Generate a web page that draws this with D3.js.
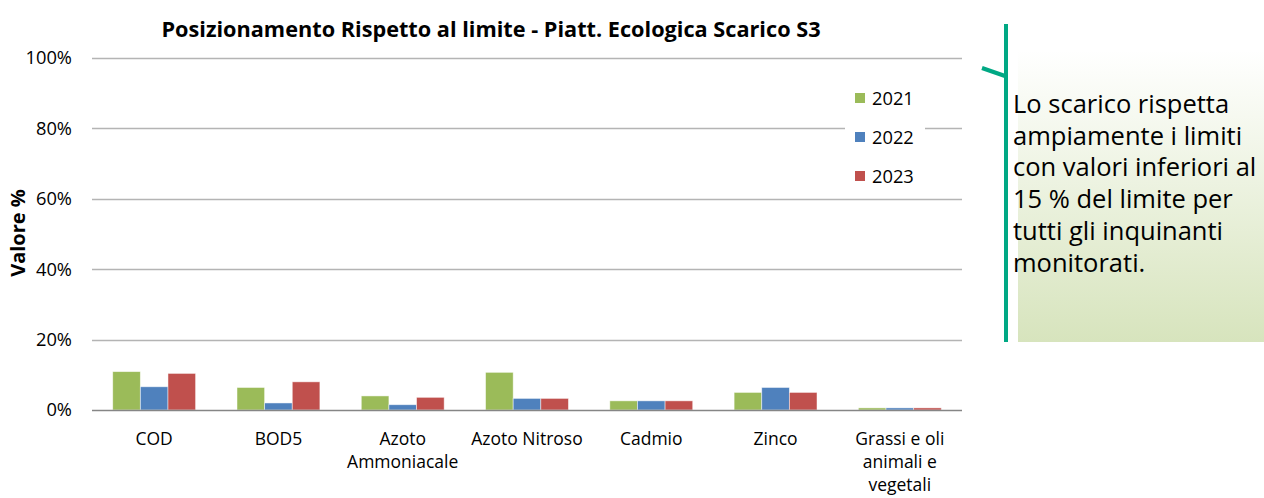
<!DOCTYPE html>
<html>
<head>
<meta charset="utf-8">
<script src="https://cdn.jsdelivr.net/npm/d3@7"></script>
<style>
  body { margin: 0; background: #fff; }
  svg text { font-family: "Open Sans", sans-serif; fill: #000; }
</style>
</head>
<body>
<svg id="chart" width="1264" height="498"></svg>
<script>
let width = 1264, height = 498;

// data
let categories = ["COD", "BOD5", "Azoto Ammoniacale", "Azoto Nitroso", "Cadmio", "Zinco", "Grassi e oli animali e vegetali"];
let catLines = [["COD"], ["BOD5"], ["Azoto", "Ammoniacale"], ["Azoto Nitroso"], ["Cadmio"], ["Zinco"], ["Grassi e oli", "animali e", "vegetali"]];
let years = ["2021", "2022", "2023"];
let v2021 = [10.9, 6.4, 4.0, 10.7, 2.6, 5.0, 0.6];
let v2022 = [6.6, 2.0, 1.5, 3.3, 2.6, 6.4, 0.6];
let v2023 = [10.4, 8.0, 3.6, 3.3, 2.6, 5.0, 0.6];
let yTicks = [0, 20, 40, 60, 80, 100];
let colors = ["#9BBB59", "#4F81BD", "#C0504D"];
let noteLines = ["Lo scarico rispetta", "ampiamente i limiti", "con valori inferiori al", "15 % del limite per", "tutti gli inquinanti", "monitorati."];

let series = [v2021, v2022, v2023];
let rows = [];
categories.forEach((c, i) => years.forEach((y, j) => rows.push({cat: c, year: y, value: series[j][i]})));

let margin = {left: 92, right: 302, top: 58, bottom: 88};
let svg = d3.select('#chart');

let x = d3.scaleBand().domain(categories)
    .range([margin.left, width - margin.right])
    .paddingInner(0.333).paddingOuter(0.1667);
let xs = d3.scaleBand().domain(years).range([0, x.bandwidth()]);
let y = d3.scaleLinear().domain([0, 100]).range([height - margin.bottom, margin.top]);

// gridlines
svg.append('g').selectAll('line')
    .data(yTicks.filter(t => t > 0))
    .enter().append('line')
    .attr('x1', margin.left).attr('x2', width - margin.right)
    .attr('y1', d => Math.round(y(d)) + 0.5).attr('y2', d => Math.round(y(d)) + 0.5)
    .attr('stroke', '#B4B4B4').attr('stroke-width', 1.3);

// y tick labels
let yAxis = svg.append('g')
    .attr('transform', 'translate(' + margin.left + ',0)')
    .call(d3.axisLeft(y).tickValues(yTicks).tickFormat(d => d + '%').tickSize(0).tickPadding(20));
yAxis.select('.domain').remove();
yAxis.selectAll('text').style('font-size', '18.3px').style('font-family', '"Open Sans", sans-serif').attr('fill', '#000');

// legend (white box covers the gridline behind it)
let legend = svg.append('g');
legend.append('rect').attr('x', 845).attr('y', 84).attr('width', 80).attr('height', 106).attr('fill', '#fff');
years.forEach((yr, j) => {
  legend.append('rect').attr('x', 855).attr('y', 93 + j * 39).attr('width', 10).attr('height', 10).attr('fill', colors[j]);
  legend.append('text').attr('x', 872).attr('y', 105 + j * 39).style('font-size', '18.3px').text(yr);
});

// bars
svg.append('g').selectAll('rect')
    .data(rows)
    .enter().append('rect')
    .attr('x', d => x(d.cat) + xs(d.year))
    .attr('y', d => y(d.value))
    .attr('width', xs.bandwidth())
    .attr('height', d => y(0) - y(d.value))
    .attr('fill', d => colors[years.indexOf(d.year)])
    .attr('stroke', '#fff').attr('stroke-opacity', 0.6).attr('stroke-width', 0.8);

// x baseline
svg.append('line')
    .attr('x1', margin.left).attr('x2', width - margin.right)
    .attr('y1', Math.round(y(0)) + 0.5).attr('y2', Math.round(y(0)) + 0.5)
    .attr('stroke', '#868686').attr('stroke-width', 1.5);

// category labels, one text per line
let xl = svg.append('g').selectAll('g')
    .data(categories)
    .enter().append('g');
xl.each(function(d, i) {
  catLines[i].forEach((ln, k) => {
    d3.select(this).append('text')
      .attr('text-anchor', 'middle')
      .attr('x', x(d) + x.bandwidth() / 2)
      .attr('y', 445 + k * 23)
      .style('font-size', '17.5px')
      .text(ln);
  });
});

// title
svg.append('text').attr('x', 491).attr('y', 37).attr('text-anchor', 'middle')
    .style('font-size', '21.7px').style('font-weight', 'bold')
    .text('Posizionamento Rispetto al limite - Piatt. Ecologica Scarico S3');

// y axis title
svg.append('text').attr('transform', 'translate(25,233) rotate(-90)').attr('text-anchor', 'middle')
    .style('font-size', '20px').style('font-weight', 'bold').text('Valore %');

// note box
let defs = svg.append('defs');
let grad = defs.append('linearGradient').attr('id', 'noteGrad').attr('x1', 0).attr('y1', 0).attr('x2', 0).attr('y2', 1);
grad.append('stop').attr('offset', '0%').attr('stop-color', '#FFFFFF');
grad.append('stop').attr('offset', '100%').attr('stop-color', '#D7E4BD');

svg.append('rect').attr('x', 1018).attr('y', 50).attr('width', 250).attr('height', 292).attr('fill', 'url(#noteGrad)');
svg.append('line').attr('x1', 1006).attr('x2', 1006).attr('y1', 24).attr('y2', 342)
    .attr('stroke', '#00A884').attr('stroke-width', 4);
svg.append('line').attr('x1', 982).attr('y1', 68).attr('x2', 1005).attr('y2', 76)
    .attr('stroke', '#00A884').attr('stroke-width', 4);

svg.append('g').selectAll('text')
    .data(noteLines)
    .enter().append('text')
    .attr('x', 1013)
    .attr('y', (d, i) => 113 + i * 31.7)
    .style('font-size', '25.5px').attr('fill', '#1a1a1a')
    .text(d => d);
</script>
</body>
</html>
